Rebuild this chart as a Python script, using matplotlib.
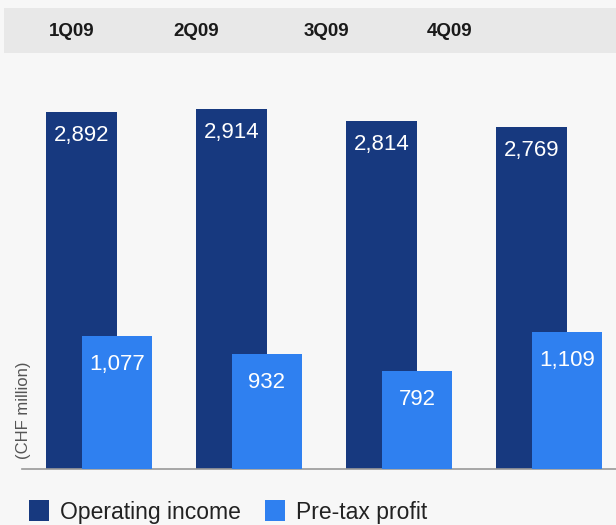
import numpy as np
from matplotlib import pyplot as plt
from matplotlib.patches import Rectangle

quarters = ["1Q09", "2Q09", "3Q09", "4Q09"]
operating_income = [2892, 2914, 2814, 2769]
pretax_profit = [1077, 932, 792, 1109]

DARK = "#17397f"
LIGHT = "#2f80f0"
BG = "#f7f7f7"

plt.rcParams['font.family'] = ['Liberation Sans', 'DejaVu Sans']

fig = plt.figure(figsize=(6.16, 5.25), dpi=100, facecolor=BG)

# Header band with quarter names
fig.patches.append(Rectangle((4 / 616, 472 / 525), 612 / 616, 45 / 525,
                             transform=fig.transFigure, facecolor="#e8e8e8",
                             edgecolor="none", zorder=0))
for q, xp in zip(quarters, [72, 196, 326, 450]):
    fig.text(xp / 616, 493 / 525, q, ha="center", va="center",
             fontsize=13.5, fontweight="bold", color="#1a1a1a")

# Main axes: left edge at 22px, baseline at 469px
ax = fig.add_axes([22 / 616, 56 / 525, 594 / 616, 409 / 525])
ax.set_facecolor(BG)

x = np.arange(len(quarters))
b1 = ax.bar(x - 0.118, operating_income, width=0.473, color=DARK, zorder=2,
            label="Operating income")
b2 = ax.bar(x + 0.118, pretax_profit, width=0.467, color=LIGHT, zorder=3,
            label="Pre-tax profit")

for xi, v in zip(x, operating_income):
    ax.text(xi - 0.118, v - 190, f"{v:,}", ha="center", va="center",
            color="white", fontsize=16, zorder=4)
for xi, v in zip(x, pretax_profit):
    ax.text(xi + 0.118, v - 230, f"{v:,}", ha="center", va="center",
            color="white", fontsize=16, zorder=4)

ax.set_xlim(-0.515, 3.445)
ax.set_ylim(0, 3312)
for s in ["top", "right", "left"]:
    ax.spines[s].set_visible(False)
ax.spines["bottom"].set_color("#999999")
ax.spines["bottom"].set_linewidth(1.2)
ax.set_xticks([])
ax.set_yticks([])

fig.text(24 / 616, 115 / 525, "(CHF million)", rotation=90, ha="center",
         va="center", fontsize=12, color="#555555")

fig.legend(handles=[b1, b2], loc="center left",
           bbox_to_anchor=(18 / 616, 13 / 525), ncol=2, frameon=False,
           fontsize=16.5, handlelength=0.85, handleheight=1.0,
           handletextpad=0.5, columnspacing=1.05, borderpad=0,
           labelcolor="#222222")

fig.savefig("out.png", dpi=100, facecolor=BG)
